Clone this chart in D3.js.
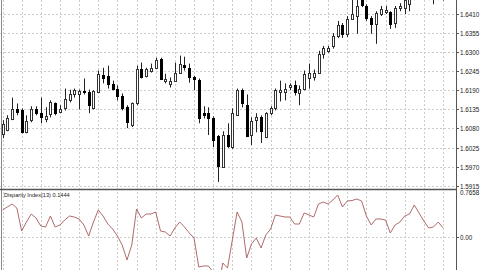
<!DOCTYPE html>
<html>

<head>
	<script src="https://cdnjs.cloudflare.com/ajax/libs/d3/7.8.5/d3.min.js"></script>
	<style>
		body {
			margin: 0;
			background: #fff;
		}

		svg {
			display: block;
			font-family: "Liberation Sans", Arial, sans-serif;
		}

		.grid {
			stroke: #cccccc;
			stroke-dasharray: 2, 2;
			shape-rendering: crispEdges;
		}
	</style>
</head>

<body>
	<div id="chart"></div>

	<script>
		// candlestick chart, 93 bars, with Disparity Index(13) underneath

		var openP = [1.6064, 1.6075, 1.6107, 1.6135, 1.6132, 1.6069, 1.6104, 1.6135, 1.6124, 1.6107,
			1.6121, 1.6152, 1.6127, 1.6138, 1.6161, 1.6178, 1.6178, 1.6187, 1.6184, 1.6138,
			1.6187, 1.6235, 1.6230, 1.6207, 1.6195, 1.6175, 1.6141, 1.6089, 1.6152, 1.6250,
			1.6232, 1.6247, 1.6255, 1.6281, 1.6218, 1.6210, 1.6218, 1.6241, 1.6264, 1.6255,
			1.6227, 1.6221, 1.6124, 1.6124, 1.6109, 1.6058, 1.5969, 1.6061, 1.6026, 1.6121,
			1.6190, 1.6149, 1.6061, 1.6104, 1.6112, 1.6055, 1.6124, 1.6138, 1.6184, 1.6187,
			1.6198, 1.6204, 1.6184, 1.6195, 1.6227, 1.6230, 1.6241, 1.6295, 1.6304, 1.6318,
			1.6347, 1.6378, 1.6353, 1.6396, 1.6404, 1.6458, 1.6433, 1.6398, 1.6381, 1.6410,
			1.6416, 1.6416, 1.6384, 1.6427, 1.6427, 1.6438, 1.6458, 1.6470, 1.6476, 1.6467,
			1.6461, 1.6464, 1.6458];

		var highP = [1.6104, 1.6118, 1.6169, 1.6152, 1.6138, 1.6118, 1.6144, 1.6144, 1.6169, 1.6141,
			1.6161, 1.6155, 1.6147, 1.6195, 1.6192, 1.6195, 1.6192, 1.6224, 1.6192, 1.6190,
			1.6247, 1.6255, 1.6261, 1.6218, 1.6204, 1.6181, 1.6147, 1.6155, 1.6261, 1.6270,
			1.6255, 1.6267, 1.6284, 1.6284, 1.6238, 1.6227, 1.6270, 1.6290, 1.6287, 1.6267,
			1.6232, 1.6224, 1.6144, 1.6141, 1.6115, 1.6061, 1.6072, 1.6095, 1.6138, 1.6195,
			1.6195, 1.6178, 1.6112, 1.6124, 1.6118, 1.6127, 1.6144, 1.6195, 1.6218, 1.6210,
			1.6210, 1.6218, 1.6204, 1.6247, 1.6267, 1.6250, 1.6304, 1.6318, 1.6318, 1.6355,
			1.6390, 1.6384, 1.6404, 1.6453, 1.6456, 1.6470, 1.6438, 1.6404, 1.6418, 1.6433,
			1.6433, 1.6418, 1.6433, 1.6441, 1.6458, 1.6464, 1.6487, 1.6493, 1.6490, 1.6481,
			1.6470, 1.6481, 1.6470];

		var lowP = [1.6052, 1.6072, 1.6104, 1.6118, 1.6066, 1.6066, 1.6098, 1.6118, 1.6095, 1.6098,
			1.6112, 1.6118, 1.6124, 1.6132, 1.6155, 1.6169, 1.6135, 1.6178, 1.6124, 1.6135,
			1.6184, 1.6210, 1.6195, 1.6190, 1.6161, 1.6132, 1.6081, 1.6084, 1.6147, 1.6224,
			1.6227, 1.6241, 1.6252, 1.6221, 1.6210, 1.6198, 1.6215, 1.6238, 1.6247, 1.6212,
			1.6190, 1.6095, 1.6109, 1.6061, 1.6026, 1.5926, 1.5966, 1.6024, 1.6021, 1.6118,
			1.6141, 1.6055, 1.6032, 1.6069, 1.6038, 1.6052, 1.6118, 1.6132, 1.6158, 1.6161,
			1.6190, 1.6175, 1.6147, 1.6190, 1.6195, 1.6218, 1.6238, 1.6281, 1.6298, 1.6310,
			1.6341, 1.6341, 1.6344, 1.6393, 1.6353, 1.6430, 1.6390, 1.6353, 1.6324, 1.6404,
			1.6410, 1.6367, 1.6370, 1.6418, 1.6410, 1.6418, 1.6450, 1.6456, 1.6453, 1.6450,
			1.6438, 1.6450, 1.6449];

		var closeP = [1.6092, 1.6109, 1.6135, 1.6127, 1.6069, 1.6101, 1.6135, 1.6124, 1.6112, 1.6115,
			1.6155, 1.6124, 1.6135, 1.6164, 1.6178, 1.6190, 1.6187, 1.6184, 1.6147, 1.6187,
			1.6238, 1.6227, 1.6207, 1.6192, 1.6175, 1.6141, 1.6098, 1.6152, 1.6250, 1.6227,
			1.6252, 1.6255, 1.6278, 1.6224, 1.6224, 1.6218, 1.6241, 1.6267, 1.6258, 1.6230,
			1.6221, 1.6112, 1.6118, 1.6109, 1.6046, 1.5972, 1.6061, 1.6029, 1.6124, 1.6192,
			1.6152, 1.6061, 1.6101, 1.6112, 1.6072, 1.6124, 1.6138, 1.6190, 1.6190, 1.6195,
			1.6204, 1.6184, 1.6195, 1.6238, 1.6241, 1.6241, 1.6295, 1.6313, 1.6313, 1.6347,
			1.6378, 1.6353, 1.6396, 1.6410, 1.6433, 1.6436, 1.6398, 1.6381, 1.6413, 1.6424,
			1.6421, 1.6381, 1.6427, 1.6433, 1.6450, 1.6456, 1.6476, 1.6481, 1.6464, 1.6458,
			1.6456, 1.6458, 1.6453];

		var disparity = [0.438, 0.487, 0.536, 0.470, 0.093, 0.241, 0.372, 0.307, 0.175, 0.159,
			0.339, 0.159, 0.192, 0.274, 0.339, 0.323, 0.290, 0.192, 0.011, 0.241,
			0.438, 0.339, 0.208, 0.126, 0.011, -0.136, -0.382, -0.136, 0.454, 0.307,
			0.372, 0.372, 0.405, 0.093, 0.077, 0.011, 0.143, 0.241, 0.159, 0.061,
			-0.021, -0.497, -0.480, -0.480, -0.579, -0.874, -0.431, -0.513, -0.054, 0.405,
			0.241, -0.349, -0.120, -0.021, -0.185, 0.028, 0.126, 0.356, 0.339, 0.323,
			0.323, 0.208, 0.208, 0.389, 0.356, 0.323, 0.536, 0.569, 0.536, 0.602,
			0.684, 0.487, 0.585, 0.593, 0.618, 0.585, 0.339, 0.192, 0.290, 0.290,
			0.274, 0.061, 0.192, 0.241, 0.339, 0.372, 0.520, 0.389, 0.257, 0.143,
			0.159, 0.241, 0.1444];

		var priceTicks = [1.6410, 1.6355, 1.6300, 1.6245, 1.6190, 1.6135, 1.6080, 1.6025, 1.5970, 1.5915];
		var dispTicks = [0.7658, 0.00];
		var dispName = "Disparity Index(13)";

		var width = 480,
			height = 270,
			axisX = 456,
			splitY = 189;

		var x = d3.scaleLinear()
			.domain([0, openP.length - 1])
			.range([2.5, 443]);

		var y = d3.scaleLinear()
			.domain([1.5915, 1.6410])
			.range([185.7, 14]);

		var yd = d3.scaleLinear()
			.domain([0, 0.7658])
			.range([236.7, 190]);

		var svg = d3.select("#chart").append("svg")
			.attr("width", width)
			.attr("height", height);

		var defs = svg.append("defs");
		defs.append("clipPath").attr("id", "clipMain")
			.append("rect").attr("x", 0).attr("y", 0).attr("width", axisX).attr("height", splitY);
		defs.append("clipPath").attr("id", "clipSub")
			.append("rect").attr("x", 0).attr("y", splitY + 1).attr("width", axisX).attr("height", height - splitY);

		var px = function (v) { return Math.round(v) + 0.5; };

		// grid
		var gridIdx = d3.range(0, openP.length, 4);

		svg.append("g").selectAll("line")
			.data(gridIdx)
			.enter().append("line")
			.attr("class", "grid")
			.attr("x1", function (d) { return px(x(d)); })
			.attr("x2", function (d) { return px(x(d)); })
			.attr("y1", 0)
			.attr("y2", height);

		svg.append("g").selectAll("line")
			.data(priceTicks)
			.enter().append("line")
			.attr("class", "grid")
			.attr("x1", 0)
			.attr("x2", axisX)
			.attr("y1", function (d) { return px(y(d)); })
			.attr("y2", function (d) { return px(y(d)); });

		svg.append("line")
			.attr("class", "grid")
			.attr("x1", 0).attr("x2", axisX)
			.attr("y1", px(yd(0))).attr("y2", px(yd(0)));

		// candles
		var main = svg.append("g").attr("clip-path", "url(#clipMain)");

		var bars = main.selectAll("g.bar")
			.data(d3.range(openP.length))
			.enter().append("g")
			.attr("class", "bar");

		bars.append("line")
			.attr("x1", function (i) { return px(x(i)); })
			.attr("x2", function (i) { return px(x(i)); })
			.attr("y1", function (i) { return y(highP[i]); })
			.attr("y2", function (i) { return y(lowP[i]); })
			.attr("stroke", "#222")
			.attr("stroke-width", 1);

		bars.append("rect")
			.attr("x", function (i) { return Math.round(x(i)) - 1 + 0.5; })
			.attr("y", function (i) { return Math.round(y(Math.max(openP[i], closeP[i]))) + 0.5; })
			.attr("width", 2)
			.attr("height", function (i) {
				return Math.max(1, Math.round(Math.abs(y(openP[i]) - y(closeP[i]))));
			})
			.attr("fill", function (i) { return closeP[i] >= openP[i] ? "#fff" : "#000"; })
			.attr("stroke", function (i) { return closeP[i] >= openP[i] ? "#333" : "#000"; })
			.attr("stroke-width", 1)
			.attr("shape-rendering", "crispEdges");

		// disparity line
		var line = d3.line()
			.x(function (d, i) { return x(i); })
			.y(function (d) { return yd(d); });

		svg.append("g").attr("clip-path", "url(#clipSub)")
			.append("path")
			.datum(disparity)
			.attr("d", line)
			.attr("fill", "none")
			.attr("stroke", "#a65a5a")
			.attr("stroke-width", 0.9);

		// frame
		svg.append("line")
			.attr("x1", 1.5).attr("x2", 1.5).attr("y1", 0).attr("y2", height)
			.attr("stroke", "#8a8a8a");
		svg.append("line")
			.attr("x1", axisX + 0.5).attr("x2", axisX + 0.5).attr("y1", 0).attr("y2", height)
			.attr("stroke", "#555");
		svg.append("line")
			.attr("x1", 0).attr("x2", axisX + 1).attr("y1", splitY + 0.5).attr("y2", splitY + 0.5)
			.attr("stroke", "#555")
			.attr("stroke-width", 1.5);

		// right axis labels
		var tick = svg.append("g").selectAll("g")
			.data(priceTicks)
			.enter().append("g")
			.attr("transform", function (d) { return "translate(" + axisX + "," + px(y(d)) + ")"; });

		tick.append("line")
			.attr("x1", 0).attr("x2", 3)
			.attr("stroke", "#555");

		tick.append("text")
			.attr("x", 4)
			.attr("dy", "0.35em")
			.attr("font-size", "6.3px")
			.attr("fill", "#222")
			.text(function (d) { return d.toFixed(4); });

		svg.append("text")
			.attr("x", axisX + 4)
			.attr("y", 193)
			.attr("dy", "0.35em")
			.attr("font-size", "6.3px")
			.attr("fill", "#222")
			.text(dispTicks[0].toFixed(4));

		svg.append("line")
			.attr("x1", axisX).attr("x2", axisX + 3)
			.attr("y1", px(yd(0))).attr("y2", px(yd(0)))
			.attr("stroke", "#555");

		svg.append("text")
			.attr("x", axisX + 4)
			.attr("y", px(yd(dispTicks[1])))
			.attr("dy", "0.35em")
			.attr("font-size", "6.3px")
			.attr("fill", "#222")
			.text(dispTicks[1].toFixed(2));

		svg.append("text")
			.attr("x", 4)
			.attr("y", 195)
			.attr("dy", "0.35em")
			.attr("font-size", "5.6px")
			.attr("fill", "#222")
			.text(dispName + " " + disparity[disparity.length - 1].toFixed(4));
	</script>
</body>

</html>
